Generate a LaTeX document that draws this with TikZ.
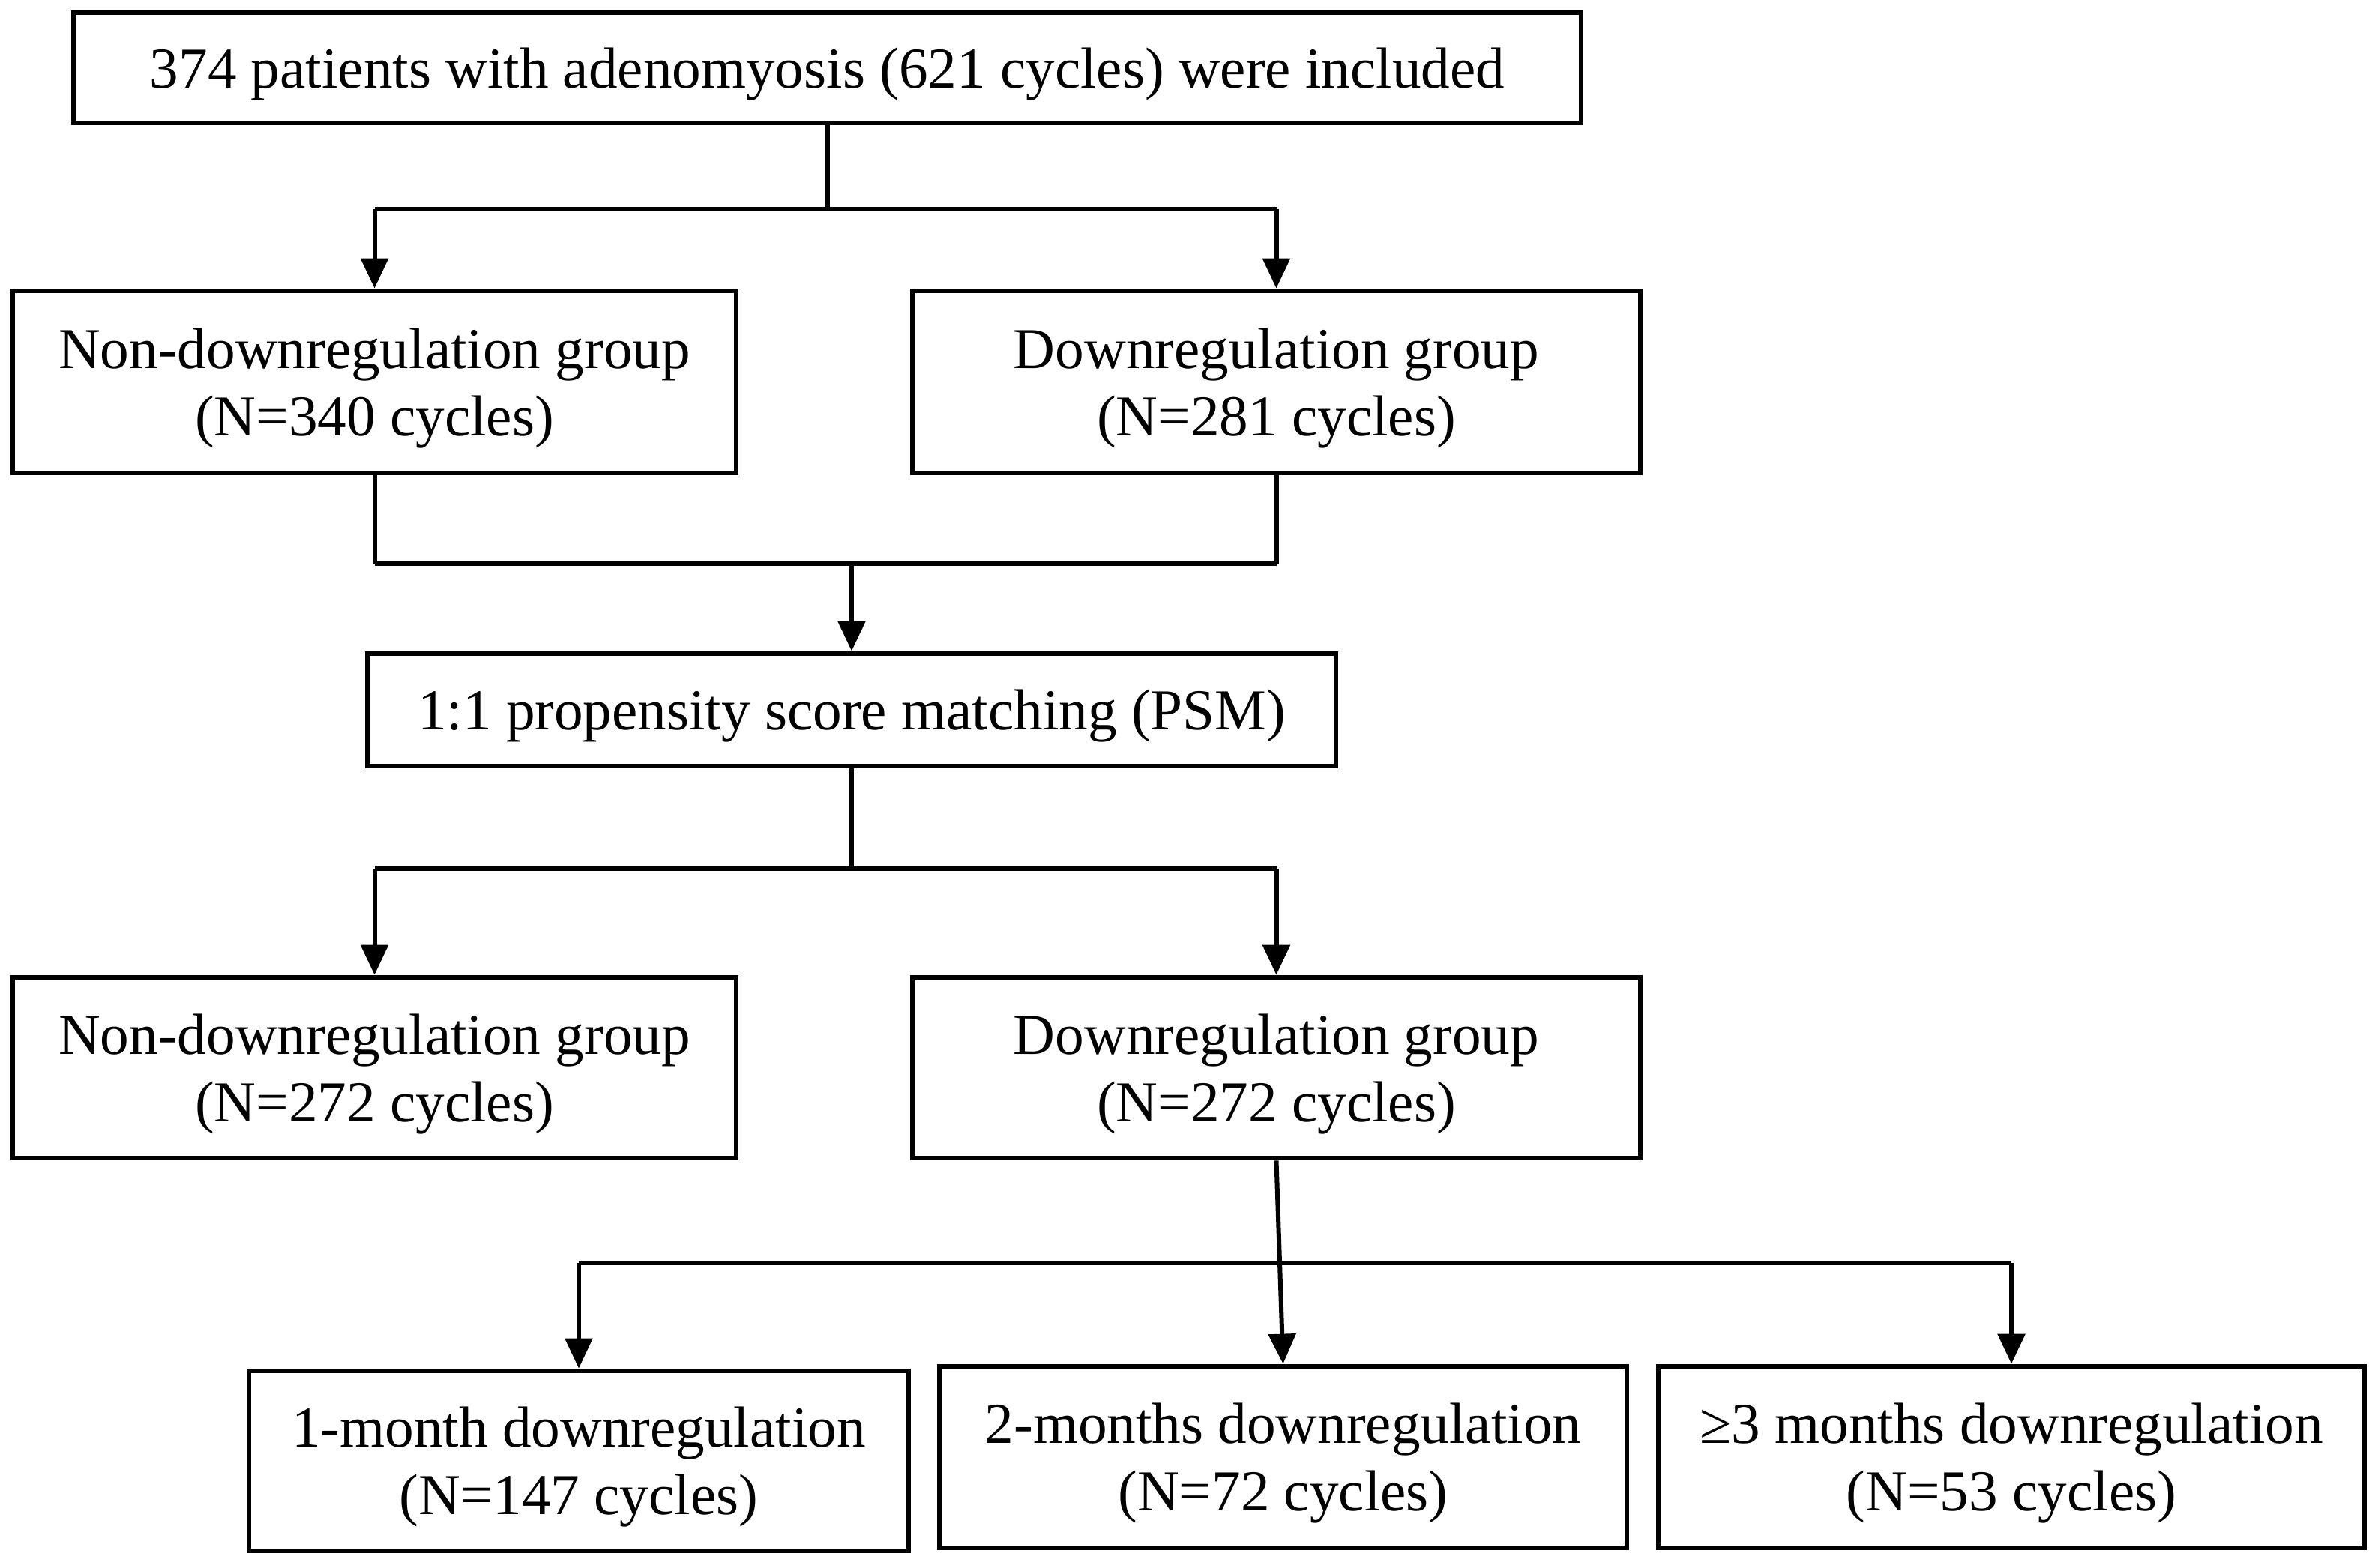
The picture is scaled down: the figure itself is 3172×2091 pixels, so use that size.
\documentclass[tikz,border=0pt]{standalone}
\usepackage{fontspec}
\setmainfont{Liberation Serif}
\usetikzlibrary{arrows.meta}
\tikzset{
  box/.style={draw=black, line width=1.7pt, fill=white, inner sep=0pt, align=center,
    text depth=0pt, font=\fontsize{19.3}{22.5}\selectfont},
  vline/.style={draw=black, line width=1.5pt},
  hline/.style={draw=black, line width=1.7pt},
  arr/.style={draw=black, line width=1.5pt, -{Triangle[length=10pt,width=9pt]}},
}
\begin{document}
\begin{tikzpicture}[x=0.25pt,y=-0.25pt]
\useasboundingbox (0,0) rectangle (3172,2091);
% boxes
\node[box, minimum width=502.75pt, minimum height=36.75pt] (top) at (1103.5,90.5) {374 patients with adenomyosis (621 cycles) were included};
\node[box, minimum width=241.25pt, minimum height=60.75pt] (nd1) at (499.5,509.5) {Non-downregulation group\\(N=340 cycles)};
\node[box, minimum width=242.75pt, minimum height=60.75pt] (d1) at (1702.5,509.5) {Downregulation group\\(N=281 cycles)};
\node[box, minimum width=323pt, minimum height=37.5pt] (psm) at (1136,947) {1:1 propensity score matching (PSM)};
\node[box, minimum width=241.25pt, minimum height=60.25pt] (nd2) at (499.5,1424.5) {Non-downregulation group\\(N=272 cycles)};
\node[box, minimum width=242.75pt, minimum height=60.25pt] (d2) at (1702.5,1424.5) {Downregulation group\\(N=272 cycles)};
\node[box, minimum width=220pt, minimum height=60pt] (m1) at (772,1949) {1-month downregulation\\(N=147 cycles)};
\node[box, minimum width=229.25pt, minimum height=60.5pt] (m2) at (1711.5,1944) {2-months downregulation\\(N=72 cycles)};
\node[box, minimum width=235.5pt, minimum height=60.5pt] (m3) at (2683,1944) {≥3 months downregulation\\(N=53 cycles)};
% junction coordinates
\coordinate (j1) at (top.south |- 0,279);
\coordinate (j1l) at (nd1.north |- 0,279);
\coordinate (j1r) at (d1.north |- 0,279);
\coordinate (j2l) at (nd1.south |- 0,752);
\coordinate (j2r) at (d1.south |- 0,752);
\coordinate (j2) at (psm.north |- 0,752);
\coordinate (j3) at (psm.south |- 0,1159);
\coordinate (j3l) at (nd2.north |- 0,1159);
\coordinate (j3r) at (d2.north |- 0,1159);
\coordinate (j4l) at (m1.north |- 0,1685);
\coordinate (j4r) at (m3.north |- 0,1685);
% top split
\draw[vline] (top.south) -- (j1);
\draw[hline] (j1l) -- (j1r);
\draw[arr] (j1l) -- (nd1.north);
\draw[arr] (j1r) -- (d1.north);
% merge
\draw[vline] (nd1.south) -- (j2l);
\draw[vline] (d1.south) -- (j2r);
\draw[hline] (j2l) -- (j2r);
\draw[arr] (j2) -- (psm.north);
% second split
\draw[vline] (psm.south) -- (j3);
\draw[hline] (j3l) -- (j3r);
\draw[arr] (j3l) -- (nd2.north);
\draw[arr] (j3r) -- (d2.north);
% three-way split
\draw[hline] (j4l) -- (j4r);
\draw[arr] (d2.south) -- (m2.north);
\draw[arr] (j4l) -- (m1.north);
\draw[arr] (j4r) -- (m3.north);
\end{tikzpicture}
\end{document}
